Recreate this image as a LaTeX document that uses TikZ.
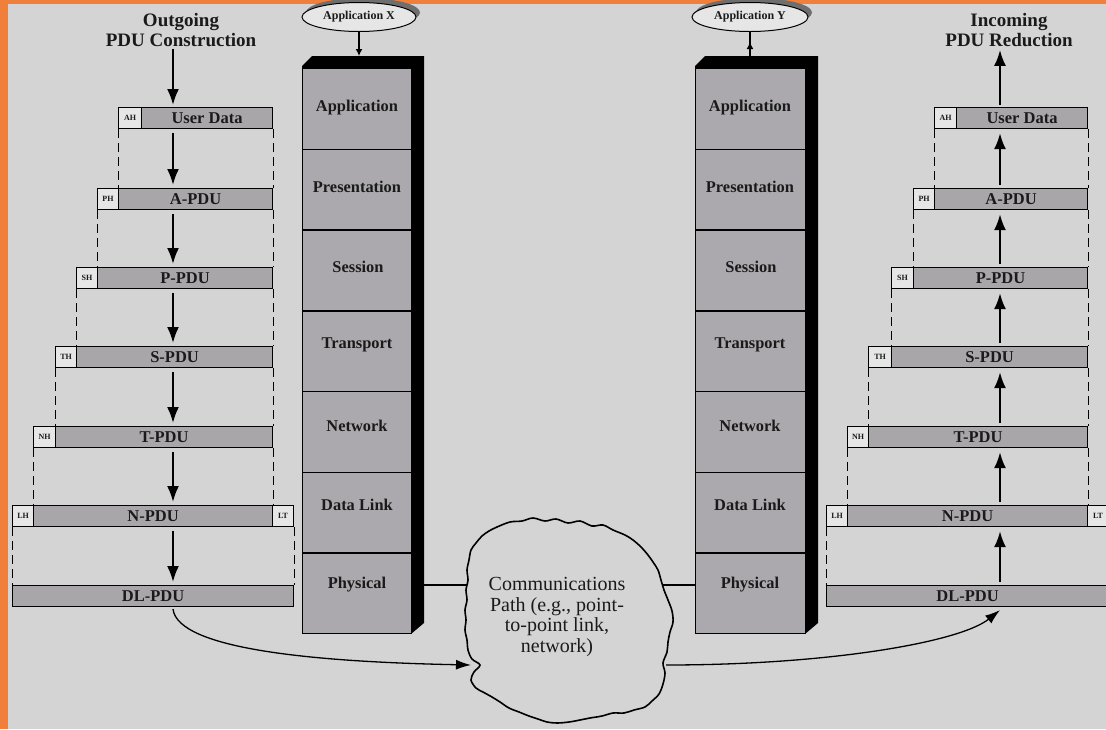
\documentclass[tikz,border=0pt]{standalone}
\usepackage{fontspec}
\setmainfont{Liberation Serif}
\usetikzlibrary{shapes.geometric,arrows.meta,calc}
\definecolor{bg}{HTML}{D4D4D4}
\definecolor{bodyg}{HTML}{A9A6AA}
\definecolor{hdrg}{HTML}{E6E6E6}
\definecolor{faceg}{HTML}{ABA9AD}
\definecolor{orng}{HTML}{EF7F3A}
\definecolor{txt}{HTML}{1A1A1A}
\definecolor{shad}{HTML}{6E6E6E}
\begin{document}
\begin{tikzpicture}[x=1pt,y=-1pt,
  pdu/.style={draw=black, line width=1.1pt, fill=bodyg, inner sep=0pt, minimum height=21pt, anchor=north west, font=\fontsize{16.5}{16.5}\selectfont\bfseries, text=txt},
  hdr/.style={pdu, fill=hdrg, font=\fontsize{8}{8}\selectfont\bfseries},
  dsh/.style={line width=1pt, dash pattern=on 9pt off 5pt},
  arr/.style={line width=2.2pt, -{Latex[length=16pt,width=12pt]}},
  lyr/.style={draw=black, line width=1.4pt, fill=faceg, minimum width=109pt, minimum height=80.7pt, anchor=north west, inner sep=0pt},
  lyrtxt/.style={font=\fontsize{16.4}{16.4}\selectfont\bfseries, text=txt, inner sep=0pt},
  ttl/.style={align=center, font=\fontsize{19}{20}\selectfont\bfseries, text=txt, inner sep=0pt},
  appell/.style={ellipse, draw=black, line width=1pt, fill=hdrg, minimum width=114pt, minimum height=29pt, inner sep=0pt, font=\fontsize{12}{12}\selectfont\bfseries, text=txt},
  cloudtxt/.style={align=center, font=\fontsize{20}{20.7}\selectfont, text=txt, inner sep=0pt},
  curve/.style={line width=1.3pt, -{Latex[length=15pt,width=10pt]}},
  link/.style={line width=2.6pt},
  smallarr/.style={line width=1.5pt, -{Latex[length=7pt,width=7pt]}}
]
\fill[bg] (0,0) rectangle (1106,729);
\useasboundingbox (0,0) rectangle (1106,729);
\clip (0,0) rectangle (1106,729);
\fill[orng] (0,0) rectangle (8,729);
\fill[orng] (0,0) rectangle (1106,4);

% ---------- titles ----------
\node[ttl] (ltitle) at (181,30) {Outgoing\\PDU Construction};
\node[ttl] (rtitle) at (1009,30) {Incoming\\PDU Reduction};
\coordinate (lax) at (173,0);
\coordinate (rax) at (1000,0);

% ---------- left PDU column ----------
\node[hdr, minimum width=23pt]  (lh1) at (118,107) {AH};
\node[pdu, minimum width=131pt] (lb1) at (141,107) {User Data};
\node[hdr, minimum width=21pt]  (lh2) at (97,188) {PH};
\node[pdu, minimum width=154pt] (lb2) at (118,188) {A-PDU};
\node[hdr, minimum width=21pt]  (lh3) at (76,267) {SH};
\node[pdu, minimum width=175pt] (lb3) at (97,267) {P-PDU};
\node[hdr, minimum width=21pt]  (lh4) at (55,346) {TH};
\node[pdu, minimum width=196pt] (lb4) at (76,346) {S-PDU};
\node[hdr, minimum width=22pt]  (lh5) at (33,426) {NH};
\node[pdu, minimum width=217pt] (lb5) at (55,426) {T-PDU};
\node[hdr, minimum width=21pt]  (lh6) at (12,505) {LH};
\node[pdu, minimum width=239pt] (lb6) at (33,505) {N-PDU};
\node[hdr, minimum width=21pt]  (lt6) at (272,505) {LT};
\node[pdu, minimum width=281pt] (lb7) at (12,585) {DL-PDU};

\draw[dsh] (lh1.south west) -- (lb2.north west);
\draw[dsh] (lb1.south east) -- (lb2.north east);
\draw[dsh] (lh2.south west) -- (lb3.north west);
\draw[dsh] (lb2.south east) -- (lb3.north east);
\draw[dsh] (lh3.south west) -- (lb4.north west);
\draw[dsh] (lb3.south east) -- (lb4.north east);
\draw[dsh] (lh4.south west) -- (lb5.north west);
\draw[dsh] (lb4.south east) -- (lb5.north east);
\draw[dsh] (lh5.south west) -- (lb6.north west);
\draw[dsh] (lb5.south east) -- (lb6.north east);
\draw[dsh] (lh6.south west) -- (lb7.north west);
\draw[dsh] (lt6.south east) -- (lb7.north east);

\draw[arr] ($(ltitle.south -| lax)+(0,2)$) -- ($(lb1.north -| lax)+(0,-2)$);
\draw[arr] ($(lb1.south -| lax)+(0,4)$) -- ($(lb2.north -| lax)+(0,-3)$);
\draw[arr] ($(lb2.south -| lax)+(0,4)$) -- ($(lb3.north -| lax)+(0,-3)$);
\draw[arr] ($(lb3.south -| lax)+(0,4)$) -- ($(lb4.north -| lax)+(0,-3)$);
\draw[arr] ($(lb4.south -| lax)+(0,4)$) -- ($(lb5.north -| lax)+(0,-3)$);
\draw[arr] ($(lb5.south -| lax)+(0,4)$) -- ($(lb6.north -| lax)+(0,-3)$);
\draw[arr] ($(lb6.south -| lax)+(0,4)$) -- ($(lb7.north -| lax)+(0,-3)$);

% ---------- right PDU column ----------
\node[hdr, minimum width=22pt]  (rh1) at (934,107) {AH};
\node[pdu, minimum width=131pt] (rb1) at (956,107) {User Data};
\node[hdr, minimum width=21pt]  (rh2) at (913,188) {PH};
\node[pdu, minimum width=153pt] (rb2) at (934,188) {A-PDU};
\node[hdr, minimum width=22pt]  (rh3) at (891,267) {SH};
\node[pdu, minimum width=174pt] (rb3) at (913,267) {P-PDU};
\node[hdr, minimum width=23pt]  (rh4) at (868,346) {TH};
\node[pdu, minimum width=196pt] (rb4) at (891,346) {S-PDU};
\node[hdr, minimum width=21pt]  (rh5) at (847,426) {NH};
\node[pdu, minimum width=219pt] (rb5) at (868,426) {T-PDU};
\node[hdr, minimum width=21pt]  (rh6) at (826,505) {LH};
\node[pdu, minimum width=240pt] (rb6) at (847,505) {N-PDU};
\node[hdr, minimum width=21pt]  (rt6) at (1087,505) {LT};
\node[pdu, minimum width=282pt] (rb7) at (826,585) {DL-PDU};

\draw[dsh] (rh1.south west) -- (rb2.north west);
\draw[dsh] (rb1.south east) -- (rb2.north east);
\draw[dsh] (rh2.south west) -- (rb3.north west);
\draw[dsh] (rb2.south east) -- (rb3.north east);
\draw[dsh] (rh3.south west) -- (rb4.north west);
\draw[dsh] (rb3.south east) -- (rb4.north east);
\draw[dsh] (rh4.south west) -- (rb5.north west);
\draw[dsh] (rb4.south east) -- (rb5.north east);
\draw[dsh] (rh5.south west) -- (rb6.north west);
\draw[dsh] (rb5.south east) -- (rb6.north east);
\draw[dsh] (rh6.south west) -- (rb7.north west);
\draw[dsh] (rt6.south east) -- (rb7.north east);

\draw[arr] ($(rb1.north -| rax)+(0,-2)$) -- ($(rtitle.south -| rax)+(0,3)$);
\draw[arr] ($(rb2.north -| rax)+(0,-3)$) -- ($(rb1.south -| rax)+(0,4)$);
\draw[arr] ($(rb3.north -| rax)+(0,-3)$) -- ($(rb2.south -| rax)+(0,4)$);
\draw[arr] ($(rb4.north -| rax)+(0,-3)$) -- ($(rb3.south -| rax)+(0,4)$);
\draw[arr] ($(rb5.north -| rax)+(0,-3)$) -- ($(rb4.south -| rax)+(0,4)$);
\draw[arr] ($(rb6.north -| rax)+(0,-3)$) -- ($(rb5.south -| rax)+(0,4)$);
\draw[arr] ($(rb7.north -| rax)+(0,-3)$) -- ($(rb6.south -| rax)+(0,4)$);

% ---------- left stack ----------
\fill[black] (302,68) -- (302,66) -- (312,56) -- (424,56) -- (424,623) -- (411,634) -- (411,68) -- cycle;
\node[lyr] (x1) at (302,68) {};
\node[lyr] (x2) at (302,148.7) {};
\node[lyr] (x3) at (302,229.4) {};
\node[lyr] (x4) at (302,310.1) {};
\node[lyr] (x5) at (302,390.9) {};
\node[lyr] (x6) at (302,471.6) {};
\node[lyr] (x7) at (302,552.3) {};
\node[lyrtxt] (xl1) at (357,108) {Application};
\node[lyrtxt] (xl2) at (357,187) {Presentation};
\node[lyrtxt] (xl3) at (358,267) {Session};
\node[lyrtxt] (xl4) at (357,345) {Transport};
\node[lyrtxt] (xl5) at (357,426) {Network};
\node[lyrtxt] (xl6) at (357,505) {Data Link};
\node[lyrtxt] (xl7) at (357,585) {Physical};

% ---------- right stack ----------
\fill[black] (695,68) -- (695,66) -- (705,56) -- (818,56) -- (818,623) -- (805,634) -- (805,68) -- cycle;
\node[lyr, minimum width=110pt] (y1) at (695,68) {};
\node[lyr, minimum width=110pt] (y2) at (695,148.7) {};
\node[lyr, minimum width=110pt] (y3) at (695,229.4) {};
\node[lyr, minimum width=110pt] (y4) at (695,310.1) {};
\node[lyr, minimum width=110pt] (y5) at (695,390.9) {};
\node[lyr, minimum width=110pt] (y6) at (695,471.6) {};
\node[lyr, minimum width=110pt] (y7) at (695,552.3) {};
\node[lyrtxt] (yl1) at (750,108) {Application};
\node[lyrtxt] (yl2) at (750,187) {Presentation};
\node[lyrtxt] (yl3) at (751,267) {Session};
\node[lyrtxt] (yl4) at (750,345) {Transport};
\node[lyrtxt] (yl5) at (750,426) {Network};
\node[lyrtxt] (yl6) at (750,505) {Data Link};
\node[lyrtxt] (yl7) at (750,585) {Physical};

% ---------- applications ----------
\fill[shad] (363,12.5) ellipse [x radius=57pt, y radius=14.5pt];
\node[appell] (appx) at (359,17) {Application X};
\fill[shad] (754,12.5) ellipse [x radius=58pt, y radius=14.5pt];
\node[appell, minimum width=116pt] (appy) at (750,17) {Application Y};
\coordinate (xtop) at (359,56);
\coordinate (ytop) at (750,56);
\coordinate (ytip) at (750,42);
\draw[smallarr] (appx.south) -- (xtop);
\draw[line width=1.5pt] (ytop) -- (appy.south);
\draw[smallarr] (ytop) -- (ytip);

% ---------- cloud ----------
\draw[line width=1.6pt, fill=bg] plot[smooth cycle, tension=0.55] coordinates {
(497,527) (510,522) (522,521) (533,518) (545,521) (556,519) (568,523) (580,521)
(592,526) (603,525) (613,530) (625,535) (633,540) (641,547) (648,555) (653,562)
(658,570) (661,580) (664,590) (668,600) (672,611) (673,622) (670,632) (668,642)
(667,652) (663,663) (665,673) (663,684) (659,694) (652,701) (645,707) (634,710)
(624,713) (613,713) (602,716) (590,718) (580,720) (569,722) (557,723) (547,722)
(538,719) (529,716) (519,712) (509,708) (500,702) (492,697) (483,692) (476,688)
(471,680) (474,672) (480,665) (472,659) (468,650) (467,640) (465,630) (466,620)
(465,610) (467,600) (466,590) (468,580) (467,570) (469,560) (471,550) (476,543)
(482,536) (489,531)};
\node[cloudtxt] (cloud) at (557,617) {Communications\\Path (e.g., point-\\to-point link,\\network)};
\coordinate (cloudW) at (467,585);
\coordinate (cloudE) at (663,585);
\coordinate (cloudIn) at (471,665);
\coordinate (cloudOut) at (666,665);
\coordinate (xside) at (424,0);

\draw[link] (xl7 -| xside) -- (cloudW);
\draw[link] (cloudE) -- (y7.west |- cloudE);

\draw[curve] ($(lb7.south -| lax)+(0,2)$) .. controls (178,650) and (320,662) .. (cloudIn);
\draw[curve] (cloudOut) .. controls (830,665) and (960,642) .. ($(rb7.south -| rax)+(0,3)$);
\end{tikzpicture}
\end{document}
